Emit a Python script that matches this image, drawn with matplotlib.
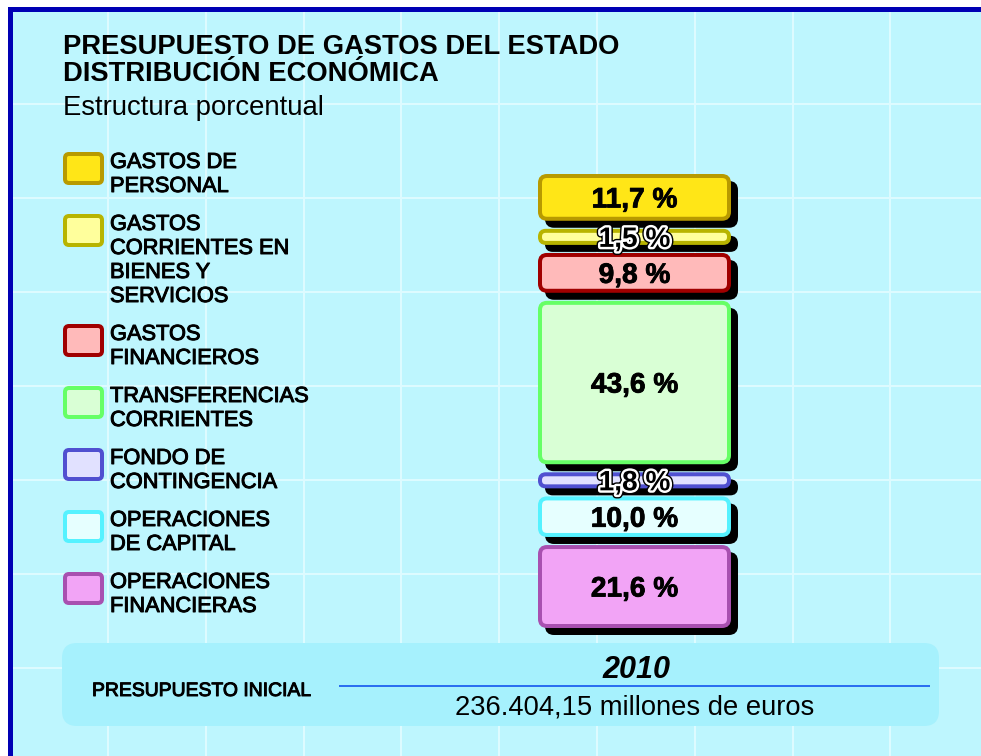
import numpy as np
import matplotlib
matplotlib.use("Agg")
import matplotlib.pyplot as plt
from matplotlib.patches import FancyBboxPatch, Rectangle
import matplotlib.transforms as mtransforms
import matplotlib.patheffects as pe

plt.rcParams['font.family'] = ['Liberation Sans', 'DejaVu Sans']

# ---------------- data ----------------
categories = [
    "GASTOS DE\nPERSONAL",
    "GASTOS\nCORRIENTES EN\nBIENES Y\nSERVICIOS",
    "GASTOS\nFINANCIEROS",
    "TRANSFERENCIAS\nCORRIENTES",
    "FONDO DE\nCONTINGENCIA",
    "OPERACIONES\nDE CAPITAL",
    "OPERACIONES\nFINANCIERAS",
]
values = [11.7, 1.5, 9.8, 43.6, 1.8, 10.0, 21.6]
value_labels = ["11,7 %", "1,5 %", "9,8 %", "43,6 %", "1,8 %", "10,0 %", "21,6 %"]
fill_colors = ["#FFE617", "#FFFF9C", "#FFBABA", "#D9FFD5", "#E1E1FF", "#E6FFFF", "#F2A4F6"]
edge_colors = ["#B89A00", "#B8B400", "#A00000", "#66FF66", "#5050D0", "#55F2FF", "#A850B0"]

title_lines = ["PRESUPUESTO DE GASTOS DEL ESTADO", "DISTRIBUCIÓN ECONÓMICA"]
subtitle = "Estructura porcentual"
budget_label = "PRESUPUESTO INICIAL"
budget_year = "2010"
budget_amount = "236.404,15 millones de euros"

# ---------------- figure ----------------
W, H = 981, 756
fig = plt.figure(figsize=(W / 100, H / 100), dpi=100)
fig.patch.set_facecolor("white")
bg = fig.add_axes([0, 0, 1, 1])
bg.set_xlim(0, W)
bg.set_ylim(H, 0)
bg.axis("off")

PX = 72 / 100  # points per pixel

# background panel
bg.add_patch(Rectangle((8, 7), W, H, fc="#BEF6FE", ec="none", zorder=0))
for gx in 108 + 97.8 * np.arange(9):
    bg.plot([gx, gx], [12, H], color="#DDFBFF", lw=2 * PX, zorder=1)
for gy in 104 + 94.0 * np.arange(7):
    bg.plot([12, W], [gy, gy], color="#DDFBFF", lw=2 * PX, zorder=1)
# blue border (top & left)
bg.add_patch(Rectangle((8, 7), 4.5, H, fc="#0000B4", ec="none", zorder=2))
bg.add_patch(Rectangle((8, 7), W, 5, fc="#0000B4", ec="none", zorder=2))

# titles
bg.text(63, 54, title_lines[0], fontsize=19.7, fontweight="bold", va="baseline", ha="left", zorder=5)
bg.text(63, 81, title_lines[1], fontsize=19.7, fontweight="bold", va="baseline", ha="left", zorder=5)
bg.text(63, 115, subtitle, fontsize=19.8, va="baseline", ha="left", zorder=5)

# legend
thick = [pe.withStroke(linewidth=0.7, foreground="black")]
top = 152
for cat, fc, ec in zip(categories, fill_colors, edge_colors):
    bg.add_patch(FancyBboxPatch((65, top + 2), 37, 29,
                                boxstyle="round,pad=0,rounding_size=4",
                                fc=fc, ec=ec, lw=4 * PX, zorder=4))
    lines = cat.split("\n")
    for j, ln in enumerate(lines):
        bg.text(110, top + 16 + 24 * j, ln, fontsize=15.7, va="baseline", ha="left",
                zorder=5, path_effects=thick)
    top += 24 * len(lines) + 14

# bottom budget box
bg.add_patch(FancyBboxPatch((62, 643), 877, 83, boxstyle="round,pad=0,rounding_size=15",
                            fc="#A6F1FD", ec="none", zorder=3))

lab = bg.text(92, 696, budget_label, fontsize=15, ha="left", va="baseline", zorder=5,
              path_effects=[pe.withStroke(linewidth=0.7, foreground="black")])
renderer = fig.canvas.get_renderer()
w_now = lab.get_window_extent(renderer=renderer).width
lab.set_fontsize(15 * 220.0 / w_now)

bg.plot([340, 929], [686, 686], color="#2C6FF0", lw=2 * PX, zorder=4)
bg.text(636, 678, budget_year, fontsize=22, fontweight="bold", fontstyle="italic",
        ha="center", va="baseline", zorder=5)
bg.text(635, 714, budget_amount, fontsize=19.7, ha="center", va="baseline", zorder=5)

# ---------------- stacked bar ----------------
left_px, right_px, top_px, bot_px = 540, 729, 176, 626
ax = fig.add_axes([left_px / W, 1 - bot_px / H, (right_px - left_px) / W, (bot_px - top_px) / H])
ax.patch.set_alpha(0)
ax.axis("off")

min_h = 3.3
gap = 3.3
disp = np.maximum(np.array(values), min_h)
tops = np.concatenate([[0.0], np.cumsum(disp + gap)[:-1]])
U = tops[-1] + disp[-1]
ax.set_xlim(0, 1)
ax.set_ylim(U, 0)

ppx = right_px - left_px
ppy = (bot_px - top_px) / U
m_aspect = ppx / ppy
shadow_tr = ax.transData + mtransforms.ScaledTranslation(7 / 100, -7 / 100, fig.dpi_scale_trans)

for i, v in enumerate(values):
    h_px = disp[i] * ppy
    r_px = min(7.0, h_px / 2 - 0.3)
    style = f"round,pad=0,rounding_size={r_px / ppx:.5f}"
    sh = FancyBboxPatch((0, tops[i]), 1, disp[i], boxstyle=style, mutation_aspect=m_aspect,
                        fc="black", ec="black", lw=4 * PX, transform=shadow_tr,
                        clip_on=False, zorder=2)
    ax.add_patch(sh)

for i, v in enumerate(values):
    h_px = disp[i] * ppy
    r_px = min(7.0, h_px / 2 - 0.3)
    style = f"round,pad=0,rounding_size={r_px / ppx:.5f}"
    bar = FancyBboxPatch((0, tops[i]), 1, disp[i], boxstyle=style, mutation_aspect=m_aspect,
                         fc=fill_colors[i], ec=edge_colors[i], lw=4 * PX,
                         clip_on=False, zorder=3)
    ax.add_patch(bar)

for i, v in enumerate(values):
    effects = [pe.withStroke(linewidth=0.6, foreground="black")]
    if disp[i] * ppy < 25:
        effects = [pe.Stroke(linewidth=5.5, foreground="black"),
                   pe.Stroke(linewidth=3.5, foreground="white"),
                   pe.Normal()]
    ax.text(0.5, tops[i] + disp[i] / 2, value_labels[i], fontsize=20.2, fontweight="bold",
            ha="center", va="center_baseline", zorder=6, clip_on=False,
            path_effects=effects)

fig.savefig("out.png", dpi=100)
